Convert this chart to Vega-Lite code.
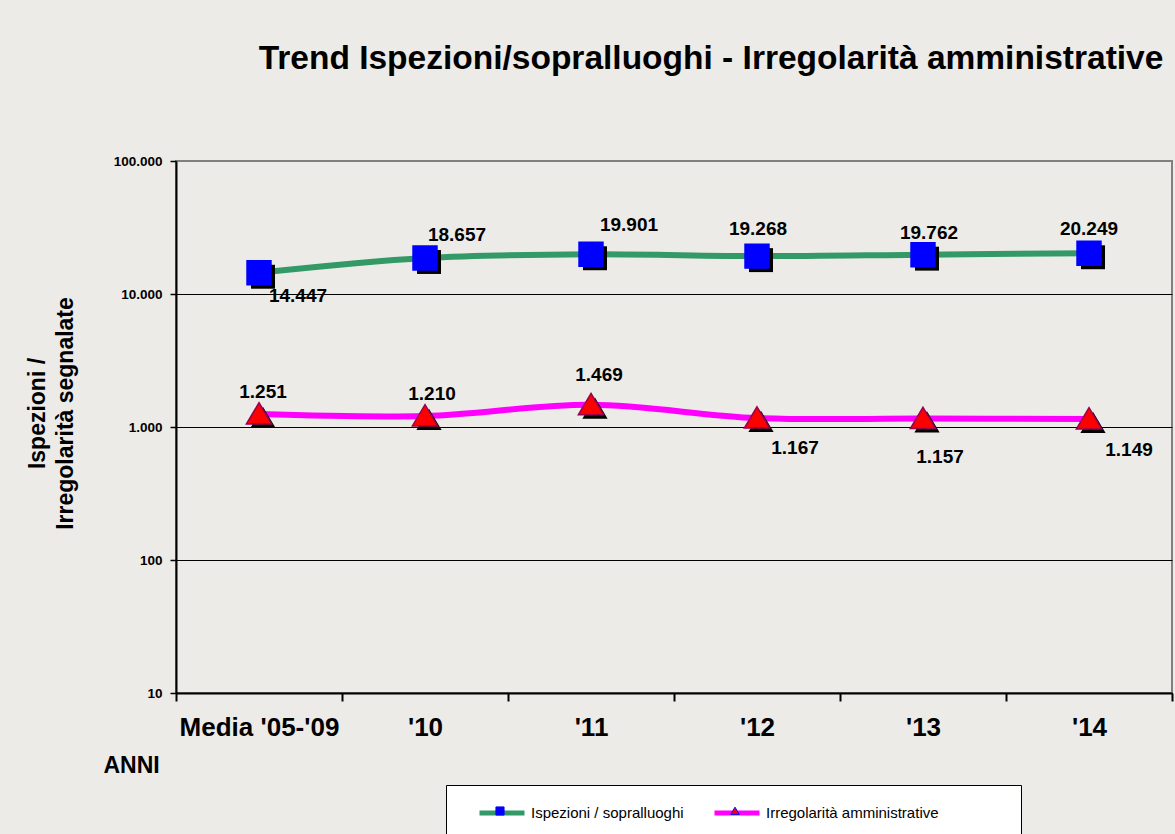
{
  "$schema": "https://vega.github.io/schema/vega-lite/v6.json",
  "autosize": {"type": "none"},
  "padding": {"left": 176, "top": 161, "right": 3, "bottom": 141},
  "width": 996,
  "height": 532,
  "background": "#ecebe8",
  "config": {
    "locale": {"number": {"decimal": ",", "thousands": ".", "grouping": [3], "currency": ["€", ""]}},
    "font": "Liberation Sans",
    "view": {"stroke": "#808080", "strokeWidth": 2}
  },
  "title": {
    "text": "Trend Ispezioni/sopralluoghi - Irregolarità amministrative",
    "anchor": "middle",
    "frame": "group",
    "dx": 37,
    "offset": 78,
    "fontSize": 33.5,
    "font": "Liberation Sans",
    "fontWeight": "bold",
    "color": "#000000"
  },
  "data": {
    "values": [
      {"anno": "Media '05-'09", "serie": "Ispezioni / sopralluoghi", "valore": 14447},
      {"anno": "'10", "serie": "Ispezioni / sopralluoghi", "valore": 18657},
      {"anno": "'11", "serie": "Ispezioni / sopralluoghi", "valore": 19901},
      {"anno": "'12", "serie": "Ispezioni / sopralluoghi", "valore": 19268},
      {"anno": "'13", "serie": "Ispezioni / sopralluoghi", "valore": 19762},
      {"anno": "'14", "serie": "Ispezioni / sopralluoghi", "valore": 20249},
      {"anno": "Media '05-'09", "serie": "Irregolarità amministrative", "valore": 1251},
      {"anno": "'10", "serie": "Irregolarità amministrative", "valore": 1210},
      {"anno": "'11", "serie": "Irregolarità amministrative", "valore": 1469},
      {"anno": "'12", "serie": "Irregolarità amministrative", "valore": 1167},
      {"anno": "'13", "serie": "Irregolarità amministrative", "valore": 1157},
      {"anno": "'14", "serie": "Irregolarità amministrative", "valore": 1149}
    ]
  },
  "encoding": {
    "x": {
      "field": "anno",
      "type": "nominal",
      "sort": ["Media '05-'09", "'10", "'11", "'12", "'13", "'14"],
      "scale": {"type": "band", "paddingInner": 0, "paddingOuter": 0},
      "axis": {
        "title": "ANNI",
        "titleX": -73,
        "titleY": 72,
        "titleAlign": "left",
        "titleBaseline": "middle",
        "titleAngle": 0,
        "titleFontSize": 23,
        "titleFontWeight": "bold",
        "titleColor": "#000000",
        "labelAngle": 0,
        "labelFontSize": 26,
        "labelFontWeight": "bold",
        "labelColor": "#000000",
        "labelBaseline": "top",
        "labelPadding": 13,
        "tickBand": "extent",
        "tickSize": 8,
        "tickColor": "#000000",
        "tickWidth": 2,
        "domainColor": "#000000",
        "domainWidth": 2,
        "grid": false
      }
    },
    "y": {
      "field": "valore",
      "type": "quantitative",
      "scale": {"type": "log", "domain": [10, 100000], "nice": false},
      "axis": {
        "title": ["Ispezioni /", "Irregolarità segnalate"],
        "titleX": -150,
        "titleY": 252,
        "titleAngle": -90,
        "titleAlign": "center",
        "titleBaseline": "top",
        "titleLineHeight": 28,
        "titleFontSize": 23,
        "titleFontWeight": "bold",
        "titleColor": "#000000",
        "values": [10, 100, 1000, 10000, 100000],
        "format": ",d",
        "labelFontSize": 13.5,
        "labelFontWeight": "bold",
        "labelColor": "#000000",
        "labelPadding": 8,
        "tickSize": 6,
        "tickColor": "#000000",
        "tickWidth": 1.5,
        "domainColor": "#000000",
        "domainWidth": 2,
        "grid": true,
        "gridColor": {"condition": {"test": "datum.value >= 100000", "value": "#808080"}, "value": "#000000"},
        "gridWidth": 1.2,
        "gridOpacity": 1
      }
    }
  },
  "layer": [
    {
      "mark": {"type": "line", "strokeWidth": 6, "interpolate": "catmull-rom"},
      "encoding": {
        "color": {
          "field": "serie",
          "type": "nominal",
          "scale": {"domain": ["Ispezioni / sopralluoghi", "Irregolarità amministrative", "zz"], "range": ["#339966", "#ff00ff", "transparent"]},
          "legend": {
            "title": null,
            "orient": "none",
            "legendX": 270,
            "legendY": 624,
            "direction": "horizontal",
            "columns": 2,
            "rowPadding": 10,
            "fillColor": "#ffffff",
            "strokeColor": "#000000",
            "padding": 3,
            "symbolOffset": 28,
            "symbolType": "stroke",
            "symbolSize": 2025,
            "symbolStrokeWidth": 5,
            "labelOffset": 4,
            "columnPadding": 0,
            "labelFont": "Liberation Sans",
            "labelFontSize": 15,
            "labelColor": "#000000",
            "labelLimit": 500,
            "labelExpr": "datum.label == 'zz' ? '' : datum.label == 'Irregolarità amministrative' ? datum.label + '                   \u200b' : datum.label"
          }
        }
      }
    },
    {
      "transform": [{"filter": "datum.serie === 'Ispezioni / sopralluoghi'"}],
      "mark": {"type": "point", "filled": true, "shape": "M-0.18,-0.18H0.18V0.18H-0.18Z", "size": 17700, "color": "#000000", "opacity": 1, "xOffset": 4, "yOffset": 4}
    },
    {
      "transform": [{"filter": "datum.serie === 'Irregolarità amministrative'"}],
      "mark": {"type": "point", "filled": true, "shape": "M0,-0.17L0.19,0.15H-0.19Z", "size": 17700, "color": "#000000", "opacity": 1, "xOffset": 4, "yOffset": 4}
    },
    {
      "mark": {"type": "point", "filled": true, "size": 17700, "opacity": 1, "strokeWidth": 1.5},
      "encoding": {
        "fill": {
          "field": "serie",
          "type": "nominal",
          "scale": {"domain": ["Ispezioni / sopralluoghi", "Irregolarità amministrative", "zy"], "range": ["#0000ff", "#ff0000", "transparent"]},
          "legend": {
            "title": null,
            "orient": "none",
            "legendX": 270,
            "legendY": 624,
            "direction": "horizontal",
            "padding": 3,
            "symbolOffset": 28,
            "symbolSize": 2025,
            "symbolStrokeWidth": 1,
            "labelOffset": 4,
            "columnPadding": 157,
            "labelFont": "Liberation Sans",
            "labelFontSize": 15,
            "labelLimit": 400,
            "labelExpr": "''"
          }
        },
        "shape": {
          "field": "serie",
          "type": "nominal",
          "scale": {"domain": ["Ispezioni / sopralluoghi", "Irregolarità amministrative", "zy"], "range": ["M-0.18,-0.18H0.18V0.18H-0.18Z", "M0,-0.17L0.19,0.15H-0.19Z", "M0,0Z"]}
        },
        "stroke": {
          "condition": {"test": "datum.serie === 'Irregolarità amministrative'", "value": "#99004d"},
          "value": "#0000ff"
        }
      }
    },
    {
      "transform": [{"filter": "datum.serie === 'Ispezioni / sopralluoghi' && datum.anno === \"Media '05-'09\""}],
      "mark": {"type": "text", "dx": 39, "dy": 23, "fontSize": 19, "fontWeight": "bold", "color": "#000000"},
      "encoding": {"text": {"field": "valore", "type": "quantitative", "format": ",d"}}
    },
    {
      "transform": [{"filter": "datum.serie === 'Ispezioni / sopralluoghi' && datum.anno === \"'10\""}],
      "mark": {"type": "text", "dx": 32, "dy": -23, "fontSize": 19, "fontWeight": "bold", "color": "#000000"},
      "encoding": {"text": {"field": "valore", "type": "quantitative", "format": ",d"}}
    },
    {
      "transform": [{"filter": "datum.serie === 'Ispezioni / sopralluoghi' && datum.anno === \"'11\""}],
      "mark": {"type": "text", "dx": 38, "dy": -29, "fontSize": 19, "fontWeight": "bold", "color": "#000000"},
      "encoding": {"text": {"field": "valore", "type": "quantitative", "format": ",d"}}
    },
    {
      "transform": [{"filter": "datum.serie === 'Ispezioni / sopralluoghi' && datum.anno === \"'12\""}],
      "mark": {"type": "text", "dx": 1, "dy": -27, "fontSize": 19, "fontWeight": "bold", "color": "#000000"},
      "encoding": {"text": {"field": "valore", "type": "quantitative", "format": ",d"}}
    },
    {
      "transform": [{"filter": "datum.serie === 'Ispezioni / sopralluoghi' && datum.anno === \"'13\""}],
      "mark": {"type": "text", "dx": 6, "dy": -22, "fontSize": 19, "fontWeight": "bold", "color": "#000000"},
      "encoding": {"text": {"field": "valore", "type": "quantitative", "format": ",d"}}
    },
    {
      "transform": [{"filter": "datum.serie === 'Ispezioni / sopralluoghi' && datum.anno === \"'14\""}],
      "mark": {"type": "text", "dx": 0, "dy": -24, "fontSize": 19, "fontWeight": "bold", "color": "#000000"},
      "encoding": {"text": {"field": "valore", "type": "quantitative", "format": ",d"}}
    },
    {
      "transform": [{"filter": "datum.serie === 'Irregolarità amministrative' && datum.anno === \"Media '05-'09\""}],
      "mark": {"type": "text", "dx": 4, "dy": -22, "fontSize": 19, "fontWeight": "bold", "color": "#000000"},
      "encoding": {"text": {"field": "valore", "type": "quantitative", "format": ",d"}}
    },
    {
      "transform": [{"filter": "datum.serie === 'Irregolarità amministrative' && datum.anno === \"'10\""}],
      "mark": {"type": "text", "dx": 7, "dy": -22, "fontSize": 19, "fontWeight": "bold", "color": "#000000"},
      "encoding": {"text": {"field": "valore", "type": "quantitative", "format": ",d"}}
    },
    {
      "transform": [{"filter": "datum.serie === 'Irregolarità amministrative' && datum.anno === \"'11\""}],
      "mark": {"type": "text", "dx": 8, "dy": -30, "fontSize": 19, "fontWeight": "bold", "color": "#000000"},
      "encoding": {"text": {"field": "valore", "type": "quantitative", "format": ",d"}}
    },
    {
      "transform": [{"filter": "datum.serie === 'Irregolarità amministrative' && datum.anno === \"'12\""}],
      "mark": {"type": "text", "dx": 38, "dy": 30, "fontSize": 19, "fontWeight": "bold", "color": "#000000"},
      "encoding": {"text": {"field": "valore", "type": "quantitative", "format": ",d"}}
    },
    {
      "transform": [{"filter": "datum.serie === 'Irregolarità amministrative' && datum.anno === \"'13\""}],
      "mark": {"type": "text", "dx": 17, "dy": 38, "fontSize": 19, "fontWeight": "bold", "color": "#000000"},
      "encoding": {"text": {"field": "valore", "type": "quantitative", "format": ",d"}}
    },
    {
      "transform": [{"filter": "datum.serie === 'Irregolarità amministrative' && datum.anno === \"'14\""}],
      "mark": {"type": "text", "dx": 40, "dy": 31, "fontSize": 19, "fontWeight": "bold", "color": "#000000"},
      "encoding": {"text": {"field": "valore", "type": "quantitative", "format": ",d"}}
    }
  ]
}
